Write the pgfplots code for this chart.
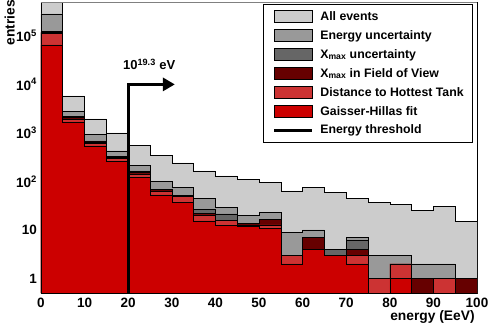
\documentclass[border=0pt]{standalone}
\usepackage{fontspec}
\setmainfont{Liberation Sans}
\usepackage{pgfplots}
\pgfplotsset{compat=1.18}
\usepackage{pgfplotstable}
\usetikzlibrary{arrows.meta,calc}

\definecolor{cAll}{RGB}{204,204,204}
\definecolor{cEne}{RGB}{153,153,153}
\definecolor{cXmax}{RGB}{102,102,102}
\definecolor{cFov}{RGB}{102,0,0}
\definecolor{cDist}{RGB}{204,51,51}
\definecolor{cGH}{RGB}{204,0,0}

% bin start (EeV), entries per 5 EeV bin; last row closes the step at 100
\pgfplotstableread{
x   all     energy  xmax    fov     dist    gh
0   700000  284000  123000  120000  114000  65000
5   5800    2800    2150    2050    1910    1690
10  1940    940     684     650     614     540
15  1000    424     324     315     294     256
20  548     215     165     155     143     122
25  340     99      69      69      62      52.6
30  241     74      51      49      48.7    37
35  165     44      26.7    22      20.4    15.3
40  130     29.4    21.4    16      16      12.5
45  111     20      13.7    13.7    12.5    12
50  96      23      16.6    16.6    12.7    10.8
55  64      9       3       3       3       2
60  76      10      7       7       4       4
65  59      4       4       3       3       3
70  45      7       6       4       3       2
75  37      3       1       1       1       0.01
80  34      3       2       2       2       1
85  25      2       1       1       0.01    0.01
90  30      2       1       1       1       0.01
95  15      1       1       1       0.01    0.01
100 15      1       1       1       0.01    0.01
}\hist

\begin{document}
\begin{tikzpicture}
\begin{axis}[
  scale only axis, width=436pt, height=291pt,
  xmin=0, xmax=100, ymode=log, ymin=0.5, ymax=5e5,
  log origin y=infty,
  xtick={0,10,...,100},
  xticklabels={0,10,20,30,40,50,60,70,80,90,100},
  ytick={1,10,100,1000,10000,100000},
  yticklabels={1,10,10\textsuperscript{2},10\textsuperscript{3},10\textsuperscript{4},10\textsuperscript{5}},
  yminorticks=false, xminorticks=false,
  major tick length=0pt,
  ticklabel style={font=\bfseries\fontsize{13.5}{16}\selectfont},
  xticklabel style={inner sep=1pt, yshift=-4pt},
  yticklabel style={inner sep=1pt, xshift=-3pt},
  axis line style={black, line width=0.8pt},
  xlabel={energy (EeV)}, ylabel={entries},
  label style={font=\bfseries\fontsize{13.8}{16}\selectfont, inner sep=0pt},
  xlabel style={at={(rel axis cs:0.995,-0.058)}, anchor=north east},
  ylabel style={at={(rel axis cs:-0.0596,1.007)}, anchor=south east},
  const plot mark left,
  every axis plot/.append style={draw=black, line width=0.6pt},
  legend image code/.code={\draw[line width=0.8pt] (0pt,-6pt) rectangle (38pt,6pt);
    \path (46pt,0pt);},
  legend style={at={(rel axis cs:0.991,0.993)}, anchor=north east,
    draw=black, line width=0.8pt, fill=white,
    font=\bfseries\fontsize{12.3}{14}\selectfont,
    row sep=6.2pt, inner xsep=9pt, inner ysep=6pt,
    nodes={inner sep=0pt, text height=9pt, text depth=2.5pt}},
  legend cell align=left,
]
\addplot[fill=cAll] table[x=x, y=all] {\hist} \closedcycle;
\addlegendentry{All events}
\addplot[fill=cEne] table[x=x, y=energy] {\hist} \closedcycle;
\addlegendentry{Energy uncertainty}
\addplot[fill=cXmax] table[x=x, y=xmax] {\hist} \closedcycle;
\addlegendentry{X\textsubscript{max} uncertainty}
\addplot[fill=cFov] table[x=x, y=fov] {\hist} \closedcycle;
\addlegendentry{X\textsubscript{max} in Field of View}
\addplot[fill=cDist] table[x=x, y=dist] {\hist} \closedcycle;
\addlegendentry{Distance to Hottest Tank}
\addplot[fill=cGH] table[x=x, y=gh] {\hist} \closedcycle;
\addlegendentry{Gaisser-Hillas fit}
\addplot[sharp plot, line width=3pt, line join=miter,
  -{Triangle[length=12pt, width=13pt]},
  legend image code/.code={\draw[-, line width=3pt] (0pt,0pt) -- (38pt,0pt);
    \path[-, draw=none] (38pt,0pt) -- (46pt,0pt);}]
  coordinates {(20,0.5) (20,10000) (30.7,10000)};
\addlegendentry{Energy threshold}
\node[font=\bfseries\fontsize{13}{15}\selectfont, anchor=base west, inner sep=0pt]
  at (axis cs:18.8,20000) {10\textsuperscript{19.3} eV};
\draw[gray, line width=1.5pt] (rel axis cs:0,1) -- (rel axis cs:1,1);
\end{axis}
\pgfresetboundingbox
\path[use as bounding box] ($(current axis.south west)+(-41pt,-34pt)$) rectangle ($(current axis.north east)+(13pt,2pt)$);
\end{tikzpicture}
\end{document}
